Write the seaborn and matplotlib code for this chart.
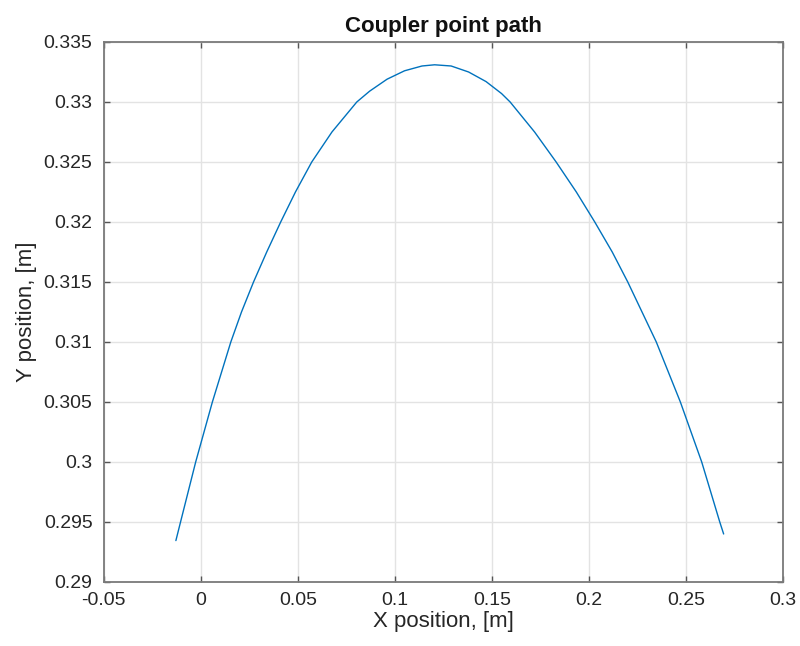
import matplotlib
matplotlib.use("Agg")
import matplotlib.pyplot as plt
import seaborn as sns
import pandas as pd

# Coupler point trajectory of the four-bar linkage [m]
x_pos = [-0.0128, -0.0104, -0.0026, 0.0060, 0.0155, 0.0210, 0.0272, 0.0340,
         0.0412, 0.0488, 0.0572, 0.0676, 0.0804, 0.0870, 0.0960, 0.1050,
         0.1140, 0.1205, 0.1290, 0.1380, 0.1470, 0.1550, 0.1594, 0.1720,
         0.1831, 0.1935, 0.2030, 0.2120, 0.2200, 0.2347, 0.2471, 0.2581,
         0.2674, 0.2694]
y_pos = [0.29345, 0.29500, 0.30000, 0.30500, 0.31000, 0.31250, 0.31500, 0.31750,
         0.32000, 0.32250, 0.32500, 0.32750, 0.33000, 0.33090, 0.33190, 0.33260,
         0.33300, 0.33310, 0.33300, 0.33250, 0.33170, 0.33070, 0.33000, 0.32750,
         0.32500, 0.32250, 0.32000, 0.31750, 0.31500, 0.31000, 0.30500, 0.30000,
         0.29500, 0.29400]

x_ticks = [-0.05, 0, 0.05, 0.1, 0.15, 0.2, 0.25, 0.3]
x_tick_labels = ["-0.05", "0", "0.05", "0.1", "0.15", "0.2", "0.25", "0.3"]
y_ticks = [0.29, 0.295, 0.3, 0.305, 0.31, 0.315, 0.32, 0.325, 0.33, 0.335]
y_tick_labels = ["0.29", "0.295", "0.3", "0.305", "0.31", "0.315", "0.32",
                 "0.325", "0.33", "0.335"]

sns.set_theme(style="white")
plt.rcParams["font.family"] = ["Liberation Sans", "DejaVu Sans"]

path = pd.DataFrame({"x": x_pos, "y": y_pos})

fig = plt.figure(figsize=(8.0, 6.46), dpi=100)
ax = fig.add_axes([0.1296, 0.0991, 0.8492, 0.8359])

sns.lineplot(data=path, x="x", y="y", sort=False, estimator=None,
             color="#0072BD", linewidth=1.0, ax=ax)

ax.set_xlim(-0.05, 0.3)
ax.set_ylim(0.29, 0.335)
ax.set_xticks(x_ticks)
ax.set_xticklabels(x_tick_labels)
ax.set_yticks(y_ticks)
ax.set_yticklabels(y_tick_labels)

ax.grid(True, color="#e3e3e3", linewidth=1.0)
ax.set_axisbelow(True)
for side in ax.spines.values():
    side.set_visible(True)
    side.set_color("#7a7a7a")
    side.set_linewidth(1.3)

ax.tick_params(axis="both", which="both", direction="in", length=4, width=1.0,
               color="#555555", labelsize=14, labelcolor="#262626",
               top=True, right=True, bottom=True, left=True)
ax.tick_params(axis="x", pad=7)
ax.tick_params(axis="y", pad=8)

ax.set_xlabel("X position, [m]", fontsize=16, color="#262626", labelpad=2)
ax.set_ylabel("Y position, [m]", fontsize=16, color="#262626", labelpad=5)
ax.set_title("Coupler point path", fontsize=16, fontweight="bold",
             color="#111111", pad=7)

fig.savefig("out.png", dpi=100)
